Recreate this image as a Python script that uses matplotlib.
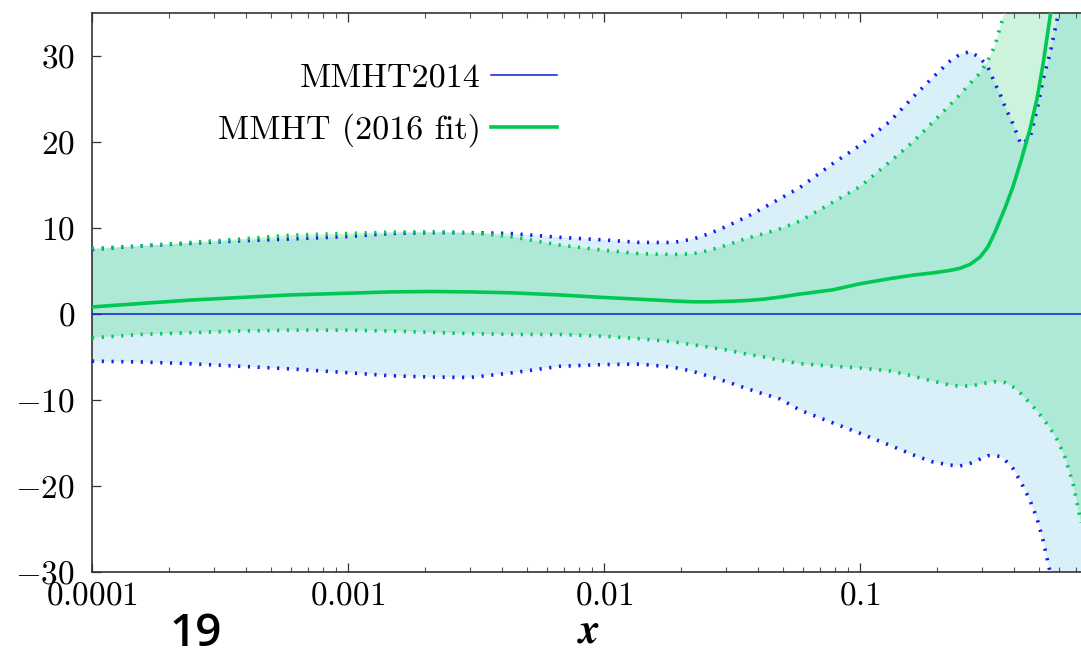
import matplotlib
matplotlib.use("Agg")
import matplotlib.pyplot as plt
from matplotlib.ticker import FixedLocator, FixedFormatter, LogLocator, NullFormatter

plt.rcParams['mathtext.fontset'] = 'cm'
plt.rcParams['font.family'] = ['cmr10', 'DejaVu Serif']
plt.rcParams['axes.unicode_minus'] = True

# ---- data: percentage deviation from MMHT2014 -------------------------------
x = [1.0e-4, 1.54e-4, 2.41e-4, 3.79e-4, 5.93e-4, 1.0e-3, 1.46e-3, 2.09e-3,
     3.0e-3, 4.29e-3, 6.73e-3, 0.01, 0.0138, 0.0186, 0.0223, 0.0259, 0.0302,
     0.0362, 0.0418, 0.0487, 0.0583, 0.0785, 0.1, 0.131, 0.161, 0.191, 0.2246,
     0.2459, 0.269, 0.2943, 0.3162, 0.3368, 0.3523, 0.3685, 0.396, 0.4256,
     0.4616, 0.4914, 0.5187, 0.5524, 0.5934, 0.6322, 0.6792, 0.7301]

central_2016 = [0.8, 1.2, 1.6, 1.9, 2.2, 2.4, 2.55, 2.6, 2.55, 2.45, 2.2, 1.9,
                1.7, 1.5, 1.4, 1.4, 1.45, 1.55, 1.7, 1.95, 2.3, 2.8, 3.5, 4.1,
                4.5, 4.75, 5.05, 5.3, 5.75, 6.6, 7.8, 9.5, 10.9, 12.3, 14.8,
                17.8, 21.5, 25.0, 29.0, 34.5, 41.0, 47.0, 53.0, 59.0]

upper_2016 = [7.6, 7.9, 8.3, 8.7, 9.15, 9.35, 9.5, 9.55, 9.45, 9.0, 8.0, 7.4,
              7.0, 6.9, 7.0, 7.4, 8.0, 8.8, 9.3, 9.9, 10.8, 13.0, 14.8, 17.7,
              20.0, 22.2, 24.3, 25.5, 26.8, 28.0, 29.5, 31.2, 33.3, 35.2, 38.0,
              41.0, 45.0, 48.0, 51.0, 54.0, 57.0, 60.0, 63.0, 66.0]

lower_2016 = [-2.8, -2.4, -2.2, -2.0, -1.9, -1.9, -2.0, -2.15, -2.3, -2.4,
              -2.4, -2.6, -2.9, -3.25, -3.6, -3.9, -4.2, -4.7, -5.0, -5.4, -5.8,
              -6.1, -6.3, -6.65, -7.25, -7.8, -8.3, -8.4, -8.4, -8.2, -8.0, -7.9,
              -7.9, -8.0, -8.5, -9.3, -10.4, -11.3, -12.2, -13.3, -14.8, -16.7,
              -19.7, -24.3]

central_2014 = [0.0] * len(x)

upper_2014 = [7.5, 7.9, 8.2, 8.5, 8.7, 9.0, 9.35, 9.45, 9.45, 9.35, 8.9, 8.6,
              8.3, 8.3, 8.7, 9.35, 10.2, 11.3, 12.3, 13.4, 14.7, 17.5, 19.6,
              22.4, 25.2, 27.4, 29.4, 30.2, 30.5, 29.8, 28.7, 26.8, 25.6, 24.1,
              22.1, 19.7, 20.5, 23.7, 27.2, 30.3, 34.7, 40.0, 46.0, 52.0]

lower_2014 = [-5.5, -5.6, -5.8, -6.1, -6.4, -6.85, -7.2, -7.35, -7.4, -6.9,
              -6.1, -5.9, -5.85, -6.2, -6.7, -7.3, -7.9, -8.7, -9.3, -9.9,
              -11.2, -12.7, -13.9, -15.3, -16.4, -17.2, -17.6, -17.7, -17.4,
              -16.9, -16.5, -16.5, -16.6, -17.0, -18.0, -19.6, -21.7, -23.8,
              -26.3, -30.0, -35.0, -40.0, -45.0, -50.0]

labels = ['MMHT2014', 'MMHT (2016 fit)']
x_ticks = [1e-4, 1e-3, 1e-2, 1e-1]
x_tick_labels = ['0.0001', '0.001', '0.01', '0.1']
y_ticks = [-30, -20, -10, 0, 10, 20, 30]

# ---- colours ---------------------------------------------------------------
blue_line = '#1a1aee'
green_line = '#00c853'
blue_fill = '#87ceeb'
green_fill = '#00cc55'

fig = plt.figure(figsize=(10.81, 6.55), dpi=100)
ax = fig.add_axes([92 / 1081, 83.3 / 655, 1 - 92 / 1081, 558.7 / 655])

# uncertainty bands
ax.fill_between(x, lower_2014, upper_2014, color=blue_fill, alpha=0.3,
                linewidth=0, zorder=1)
ax.fill_between(x, lower_2016, upper_2016, color=green_fill, alpha=0.2,
                linewidth=0, zorder=2)

dots = (0, (0.6, 2.1))
ax.plot(x, upper_2014, color=blue_line, lw=2.6, ls=dots, zorder=3)
ax.plot(x, lower_2014, color=blue_line, lw=2.6, ls=dots, zorder=3)
ax.plot(x, upper_2016, color=green_line, lw=2.6, ls=dots, zorder=3)
ax.plot(x, lower_2016, color=green_line, lw=2.6, ls=dots, zorder=3)

# central values
h14, = ax.plot(x, central_2014, color='#0a1edc', lw=1.1, zorder=4)
h16, = ax.plot(x, central_2016, color=green_line, lw=2.6, zorder=5)

ax.set_xscale('log')
ax.set_xlim(1e-4, 0.7301)
ax.set_ylim(-30, 35)

ax.xaxis.set_major_locator(FixedLocator(x_ticks))
ax.xaxis.set_major_formatter(FixedFormatter(['$%s$' % t for t in x_tick_labels]))
ax.xaxis.set_minor_locator(LogLocator(base=10, subs=range(2, 10), numticks=20))
ax.xaxis.set_minor_formatter(NullFormatter())
ax.yaxis.set_major_locator(FixedLocator(y_ticks))
ax.yaxis.set_major_formatter(FixedFormatter(['$%d$' % t if t >= 0 else '$-%d$' % -t
                                             for t in y_ticks]))

ax.tick_params(axis='both', which='major', direction='in', length=6.5,
               width=0.9, color='#333333', labelsize=24)
ax.tick_params(axis='both', which='minor', direction='in', length=3.6,
               width=0.8, color='#555555')
ax.tick_params(axis='x', which='both', top=True, pad=7)
ax.tick_params(axis='y', which='both', right=False, pad=12)

for side in ('left', 'bottom', 'top'):
    ax.spines[side].set_color('#333333')
    ax.spines[side].set_linewidth(1.2)
ax.spines['right'].set_visible(False)

leg = ax.legend([h14, h16], labels, loc='upper right',
                bbox_to_anchor=(557 / 1081, 1 - 63 / 655),
                bbox_transform=fig.transFigure, frameon=False,
                markerfirst=False, fontsize=24.5, handlelength=1.95,
                handletextpad=0.3, labelspacing=0.6, borderpad=0,
                borderaxespad=0)

fig.text(589 / 1081, 1 - 632 / 655, r'$\mathbfit{x}$', fontsize=30,
         ha='center', va='center')
fig.text(196 / 1081, 1 - 634 / 655, '19', family='Open Sans',
         fontweight='semibold', fontsize=33, ha='center', va='center')

fig.savefig('out.png', dpi=100)
